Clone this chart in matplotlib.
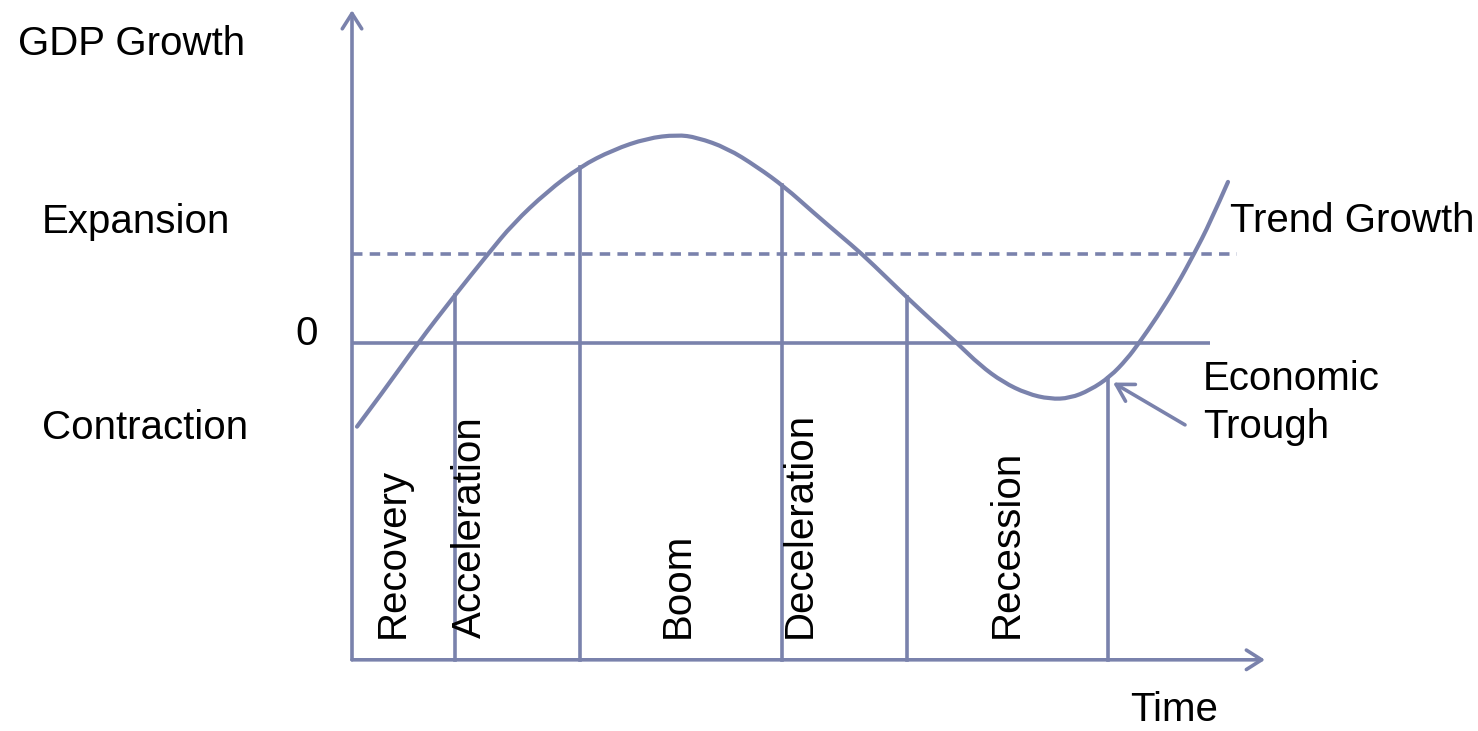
import matplotlib
matplotlib.use("Agg")
import matplotlib.pyplot as plt
from matplotlib.path import Path
from matplotlib.patches import PathPatch
import numpy as np

# business cycle curve (time units, growth units; trend = 1)
time_pts = [0.05, 0.31, 0.66, 1.01, 1.36, 1.61, 1.95, 2.28, 2.61, 2.95, 3.25,
            3.45, 3.75, 4.05, 4.33, 4.61, 4.88, 5.10, 5.35, 5.58, 5.81, 6.05,
            6.28, 6.51, 6.75, 6.98, 7.18, 7.38, 7.58, 7.75, 7.87, 8.05, 8.25,
            8.42, 8.58, 8.76]
growth_pts = [-0.94, -0.55, 0.00, 0.51, 1.00, 1.34, 1.70, 1.98, 2.17, 2.30, 2.34,
              2.31, 2.19, 1.98, 1.75, 1.47, 1.21, 1.00, 0.73, 0.48, 0.24, 0.00,
              -0.25, -0.44, -0.57, -0.63, -0.62, -0.53, -0.38, -0.18, 0.00, 0.29, 0.65,
              1.00, 1.35, 1.81]

trend_growth = 1.0
phase_bounds = [1.03, 2.28, 4.30, 5.55, 7.56]
phase_names = ["Recovery", "Acceleration", "Boom", "Deceleration", "Recession"]
trough_time = 7.61

# layout
label_x = [0.41, 1.18, 3.26, 4.48, 6.55]
col = "#7A82AC"
lw = 2.6
fs = 29

plt.rcParams["font.family"] = ["Liberation Sans", "DejaVu Sans"]

fig = plt.figure(figsize=(14.78, 7.31), dpi=100)
ax = fig.add_axes([0, 0, 1, 1])
ax.set_xlim(-3.52, 11.26)
ax.set_ylim(-4.36, 3.854)
ax.axis("off")

# axes with arrows
arrow_style = "->,head_length=0.55,head_width=0.35"
ax.annotate("", xy=(0, 3.74), xytext=(0, -3.56),
            arrowprops=dict(arrowstyle=arrow_style, color=col, lw=lw,
                            mutation_scale=20, shrinkA=0, shrinkB=0))
ax.annotate("", xy=(9.13, -3.56), xytext=(0, -3.56),
            arrowprops=dict(arrowstyle=arrow_style, color=col, lw=lw,
                            mutation_scale=20, shrinkA=0, shrinkB=0))

# zero line and trend growth
ax.plot([0, 8.58], [0, 0], color=col, lw=lw, solid_capstyle="butt")
ax.plot([0, 8.85], [trend_growth, trend_growth], color=col, lw=lw,
        linestyle=(0, (2.9, 2.0)))

# cycle curve: read points used as quadratic bezier controls for a smooth line
pts = np.column_stack([time_pts, growth_pts])
verts = [pts[0]]
codes = [Path.MOVETO]
for i in range(1, len(pts) - 1):
    mid = (pts[i] + pts[i + 1]) / 2 if i < len(pts) - 2 else pts[i + 1]
    verts += [pts[i], mid]
    codes += [Path.CURVE3, Path.CURVE3]
ax.add_patch(PathPatch(Path(verts, codes), facecolor="none", edgecolor=col,
                       lw=lw + 0.4, capstyle="round"))

# phase boundaries up to the curve
for tb in phase_bounds:
    top = np.interp(tb, time_pts, growth_pts)
    ax.plot([tb, tb], [-3.56, top], color=col, lw=lw)

for name, xl in zip(phase_names, label_x):
    ax.text(xl, -3.31, name, rotation=90, ha="center", va="bottom", fontsize=fs)

# side labels
ax.text(-3.34, 3.24, "GDP Growth", fontsize=fs, va="baseline")
ax.text(-3.10, 1.236, "Expansion", fontsize=fs, va="baseline")
ax.text(-0.57, -0.02, "0", fontsize=fs, va="baseline")
ax.text(-3.10, -1.08, "Contraction", fontsize=fs, va="baseline")
ax.text(8.78, 1.247, "Trend Growth", fontsize=fs, va="baseline")
ax.text(7.78, -4.25, "Time", fontsize=fs, va="baseline")

ax.text(8.51, -0.53, "Economic", fontsize=fs, va="baseline")
ax.text(8.51, -1.07, "Trough", fontsize=fs, va="baseline")
ax.annotate("", xy=(trough_time, np.interp(trough_time, time_pts, growth_pts) - 0.1),
            xytext=(8.33, -0.92),
            arrowprops=dict(arrowstyle="->,head_length=0.6,head_width=0.35",
                            color=col, lw=lw, mutation_scale=20,
                            shrinkA=0, shrinkB=0))

fig.savefig("out.png", dpi=100)
